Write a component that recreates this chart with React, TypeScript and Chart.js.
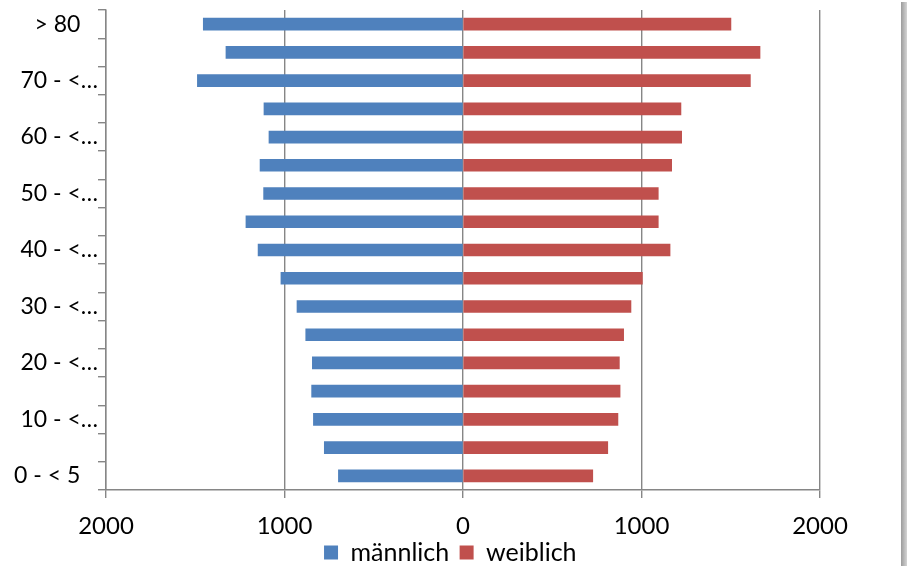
import React, { useEffect, useRef } from 'react';
import { Chart, registerables } from 'chart.js';

Chart.register(...registerables);

const categories = [
  '0 - < 5', '5 - < 10', '10 - < 15', '15 - < 20', '20 - < 25', '25 - < 30',
  '30 - < 35', '35 - < 40', '40 - < 45', '45 - < 50', '50 - < 55', '55 - < 60',
  '60 - < 65', '65 - < 70', '70 - < 75', '75 - < 80', '> 80',
];
const maleValues = [698, 777, 838, 848, 844, 881, 930, 1020, 1148, 1216, 1117, 1137, 1087, 1115, 1488, 1328, 1455];
const femaleValues = [727, 811, 868, 880, 876, 900, 941, 1005, 1160, 1094, 1094, 1169, 1225, 1221, 1610, 1664, 1501];
const seriesNames = ['männlich', 'weiblich'];
const xMin = -2000;
const xMax = 2000;
const xStep = 1000;

const FONT = 'Lato, "Open Sans", sans-serif';
const GRID = '#868686';

// centre the legend across the full canvas width (layout padding only shrinks the plot)
const legendFullWidth = {
  id: 'legendFullWidth',
  afterLayout(chart: any) {
    const lg = chart.legend;
    if (!lg) return;
    lg.left = 0;
    lg.right = chart.width;
    lg.width = chart.width;
  },
};

export default function App() {
  const ref = useRef<HTMLCanvasElement | null>(null);

  useEffect(() => {
    if (!ref.current) return;
    const chart = new Chart(ref.current, {
      type: 'bar',
      data: {
        labels: categories,
        datasets: [
          {
            label: seriesNames[0],
            data: maleValues.map((v) => -v),
            backgroundColor: '#4F81BD',
            borderWidth: 0,
            barThickness: 12,
          },
          {
            label: seriesNames[1],
            data: femaleValues,
            backgroundColor: '#C0504D',
            borderWidth: 0,
            barThickness: 12,
          },
        ],
      },
      plugins: [legendFullWidth],
      options: {
        indexAxis: 'y',
        animation: false,
        responsive: true,
        maintainAspectRatio: false,
        layout: { padding: { top: 0, right: 87, left: 0, bottom: 0 } },
        plugins: {
          tooltip: { enabled: false },
          legend: {
            position: 'bottom',
            maxHeight: 30,
            labels: {
              boxWidth: 14,
              boxHeight: 14,
              padding: 4,
              color: '#000',
              font: { family: FONT, size: 25 },
              generateLabels: (c: any) =>
                Chart.defaults.plugins.legend.labels.generateLabels(c).map((it: any) => ({ ...it, text: it.text + ' ' })),
            },
          },
        },
        scales: {
          x: {
            stacked: true,
            min: xMin,
            max: xMax,
            afterFit: (s: any) => { s.height = 46; },
            ticks: {
              stepSize: xStep,
              color: '#000',
              padding: 14,
              font: { family: FONT, size: 24 },
              callback: (v: any) => String(Math.abs(Number(v))),
            },
            grid: { color: GRID, lineWidth: 1.4, tickLength: 8, drawTicks: true },
            border: { color: GRID, width: 1.4 },
          },
          y: {
            stacked: true,
            reverse: true,
            afterFit: (s: any) => { s.width = 106; },
            ticks: {
              autoSkip: false,
              padding: 0,
              color: '#000',
              font: { family: FONT, size: 23, lineHeight: '20px' },
              callback: (v: any, i: number) => {
                if (i % 2 !== 0) return '';
                const lab = categories[i];
                if (lab.length > 7) return lab.slice(0, 6) + '…';
                return lab + '   ';
              },
            },
            grid: { drawOnChartArea: false, color: GRID, lineWidth: 1.4, tickLength: 8, offset: true },
            border: { color: GRID, width: 1.4 },
          },
        },
      },
    });
    return () => chart.destroy();
  }, []);

  return (
    <div style={{ position: 'absolute', left: 0, top: 0, width: 907, height: 566, background: '#fff' }}>
      <canvas ref={ref} />
      <div
        style={{
          position: 'absolute',
          left: 901,
          top: 2,
          width: 6,
          height: 564,
          background: 'linear-gradient(to right, #9c9c9c, #d4d4d4)',
        }}
      />
    </div>
  );
}
